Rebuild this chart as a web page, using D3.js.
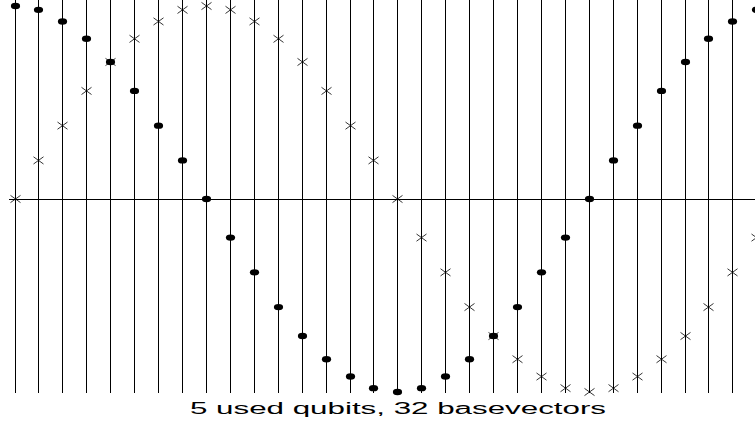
<!DOCTYPE html>
<html>
<head>
<meta charset="utf-8">
<script src="https://cdn.jsdelivr.net/npm/d3@7"></script>
<style>
  body { margin: 0; background: #fff; }
  svg { display: block; }
</style>
</head>
<body>
<div id="chart"></div>
<script>
// Basevector indices and their amplitudes (real part = dots, imaginary part = crosses)
const basevectors = d3.range(32);
const realPart = [1.00, 0.98, 0.92, 0.83, 0.71, 0.56, 0.38, 0.20, 0.00, -0.20, -0.38, -0.56, -0.71, -0.83, -0.92, -0.98,
                  -1.00, -0.98, -0.92, -0.83, -0.71, -0.56, -0.38, -0.20, 0.00, 0.20, 0.38, 0.56, 0.71, 0.83, 0.92, 0.98];
const imagPart = [0.00, 0.20, 0.38, 0.56, 0.71, 0.83, 0.92, 0.98, 1.00, 0.98, 0.92, 0.83, 0.71, 0.56, 0.38, 0.20,
                  0.00, -0.20, -0.38, -0.56, -0.71, -0.83, -0.92, -0.98, -1.00, -0.98, -0.92, -0.83, -0.71, -0.56, -0.38, -0.20];
const caption = "5 used qubits, 32 basevectors";

const width = 755, height = 424;

const svg = d3.select("#chart")
    .append("svg")
    .attr("width", width)
    .attr("height", height);

// Scales
const x = d3.scaleLinear()
    .domain([0, 31])
    .range([14.5, 756.3]);

const y = d3.scaleLinear()
    .domain([-1, 1])
    .range([392, 6]);

// Vertical lines, one per basevector
svg.selectAll(".vline")
    .data(basevectors)
    .enter()
    .append("line")
    .attr("class", "vline")
    .attr("x1", d => Math.round(x(d)) + 0.5)
    .attr("x2", d => Math.round(x(d)) + 0.5)
    .attr("y1", 0)
    .attr("y2", y(-1) + 1)
    .attr("stroke", "#000")
    .attr("stroke-width", 1);

// Zero line
svg.append("line")
    .attr("x1", 9)
    .attr("x2", width)
    .attr("y1", Math.round(y(0)) + 0.5)
    .attr("y2", Math.round(y(0)) + 0.5)
    .attr("stroke", "#000")
    .attr("stroke-width", 1);

// Real parts as filled dots
svg.selectAll(".dot")
    .data(basevectors)
    .enter()
    .append("ellipse")
    .attr("class", "dot")
    .attr("cx", d => Math.round(x(d)) + 0.5)
    .attr("cy", d => y(realPart[d]))
    .attr("rx", 4.6)
    .attr("ry", 3.2)
    .attr("fill", "#000");

// Imaginary parts as crosses
const cross = svg.selectAll(".cross")
    .data(basevectors)
    .enter()
    .append("g")
    .attr("class", "cross")
    .attr("transform", d => `translate(${Math.round(x(d)) + 0.5},${y(imagPart[d])})`);

cross.append("line")
    .attr("x1", -5).attr("y1", -3.6).attr("x2", 5).attr("y2", 3.6)
    .attr("stroke", "#000").attr("stroke-width", 0.8);
cross.append("line")
    .attr("x1", -5).attr("y1", 3.6).attr("x2", 5).attr("y2", -3.6)
    .attr("stroke", "#000").attr("stroke-width", 0.8);

// Caption (stretched wide, like the original)
svg.append("text")
    .attr("x", 398)
    .attr("y", 413.5)
    .attr("text-anchor", "middle")
    .attr("textLength", 416)
    .attr("lengthAdjust", "spacingAndGlyphs")
    .style("font-family", "'Liberation Sans', Arial, Helvetica, sans-serif")
    .style("font-size", "16px")
    .text(caption);
</script>
</body>
</html>
